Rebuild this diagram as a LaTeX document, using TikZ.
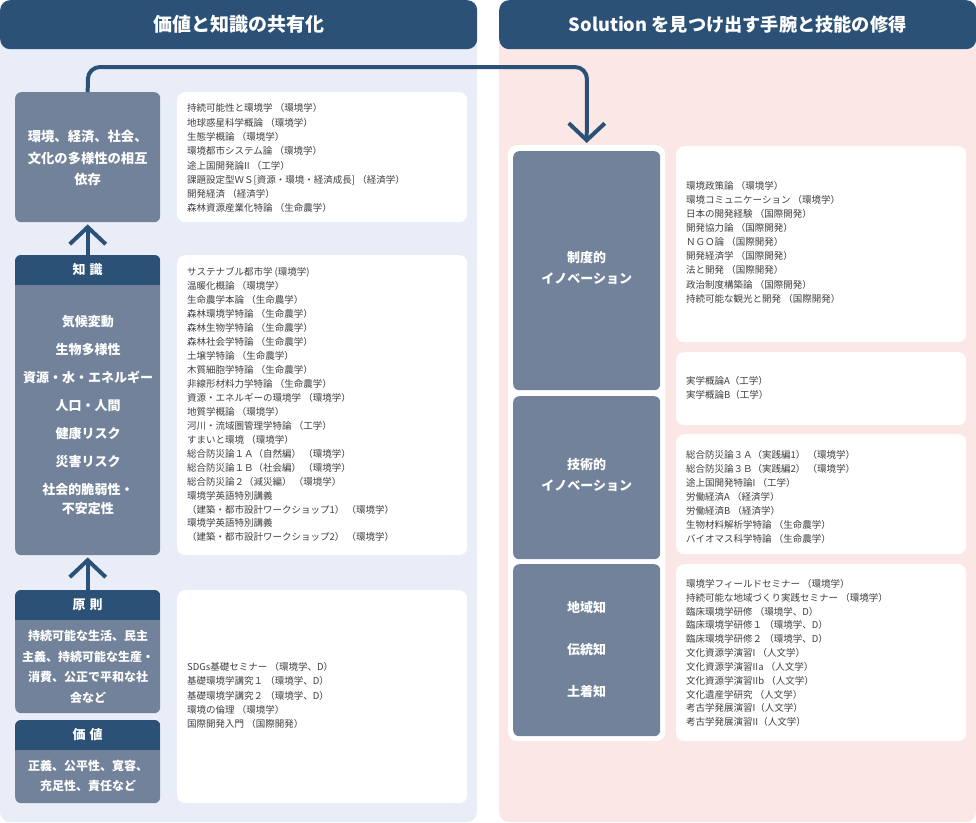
\documentclass[tikz,border=0pt]{standalone}
\usepackage{fontspec}
\setmainfont{Noto Sans CJK JP}
\usetikzlibrary{arrows.meta}
\definecolor{hdr}{HTML}{2B5177}
\definecolor{gboxc}{HTML}{72829A}
\definecolor{lbg}{HTML}{E8EDF7}
\definecolor{rbg}{HTML}{FBE8E6}
\definecolor{txt}{HTML}{404040}
\begin{document}
\begin{tikzpicture}[x=1pt,y=-1pt,
  conn/.style={draw=hdr, line width=4pt},
  chev/.style={-{Straight Barb[length=17pt,width=36pt]}},
  gray/.style={fill=gboxc, rounded corners=6pt, inner sep=0pt, anchor=north west},
  wbox/.style={fill=white, rounded corners=8pt, inner sep=0pt, anchor=north west},
  boxtxt/.style={text=white, align=center, inner sep=0pt, font=\bfseries\fontsize{13}{21}\selectfont},
  smalltxt/.style={text=white, align=center, inner sep=0pt, font=\bfseries\fontsize{12}{20.7}\selectfont},
  htxt/.style={text=white, inner sep=0pt, font=\bfseries\fontsize{13}{16}\selectfont},
  lst/.style={align=left, inner sep=0pt, anchor=north west, text=txt, font=\fontsize{9.5}{14.1}\selectfont},
  title/.style={text=white, inner sep=0pt, font=\bfseries\fontsize{18.5}{20}\selectfont}]
\useasboundingbox (0,0) rectangle (976,822);
% panels
\fill[lbg, rounded corners=10pt] (0,0) rectangle (477,822);
\fill[rbg, rounded corners=10pt] (499,0) rectangle (976,822);
\node[fill=hdr, rounded corners=10pt, minimum width=477pt, minimum height=49pt, anchor=north west, inner sep=0pt] (lh) at (0,0) {};
\node[fill=hdr, rounded corners=10pt, minimum width=477pt, minimum height=49pt, anchor=north west, inner sep=0pt] (rh) at (499,0) {};
\node[title, font=\bfseries\fontsize{19}{20}\selectfont] (lht) at (lh.center) {価値と知識の共有化};
\node[title, font=\bfseries\fontsize{18.2}{20}\selectfont] (rht) at (rh.center) {Solution を見つけ出す手腕と技能の修得};

% left gray boxes
\node[gray, minimum width=145pt, minimum height=130pt] (b1) at (15,92) {};
\node[boxtxt, font=\bfseries\fontsize{13.3}{21.5}\selectfont] (b1t) at ([yshift=-1pt]b1.center) {環境、経済、社会、\\文化の多様性の相互\\依存};

\node[gray, minimum width=145pt, minimum height=300pt] (know) at (15,255) {};
\begin{scope}
\clip[rounded corners=6pt] (know.north west) rectangle (know.south east);
\fill[hdr] (know.north west) rectangle ([yshift=-30pt]know.north east);
\end{scope}
\node[htxt] (knowh) at ([yshift=-15pt]know.north) {知\hspace{4pt}識};
\node[boxtxt, font=\bfseries\fontsize{13}{19.5}\selectfont] (knowt) at (88,415)
 {気候変動\\[8.5pt]生物多様性\\[8.5pt]資源・水・エネルギー\\[8.5pt]人口・人間\\[8.5pt]健康リスク\\[8.5pt]災害リスク\\[8.5pt]社会的脆弱性・\\不安定性};

\node[gray, minimum width=145pt, minimum height=123pt] (prin) at (15,590) {};
\begin{scope}
\clip[rounded corners=6pt] (prin.north west) rectangle (prin.south east);
\fill[hdr] (prin.north west) rectangle ([yshift=-30pt]prin.north east);
\end{scope}
\node[htxt] (prinh) at ([yshift=-15pt]prin.north) {原\hspace{4pt}則};
\node[smalltxt] (print) at (88,667) {持続可能な生活、民主\\主義、持続可能な生産・\\消費、公正で平和な社\\会など};

\node[gray, minimum width=145pt, minimum height=83pt] (val) at (15,720) {};
\begin{scope}
\clip[rounded corners=6pt] (val.north west) rectangle (val.south east);
\fill[hdr] (val.north west) rectangle ([yshift=-30pt]val.north east);
\end{scope}
\node[htxt] (valh) at ([yshift=-15pt]val.north) {価\hspace{4pt}値};
\node[smalltxt] (valt) at (88,776) {正義、公平性、寛容、\\充足性、責任など};

% left white lists
\node[wbox, minimum width=290pt, minimum height=130pt] (w1) at (177,92) {};
\node[lst, font=\fontsize{9.5}{14.3}\selectfont] (w1t) at (187,103.5) {持続可能性と環境学 （環境学）\\
地球惑星科学概論 （環境学）\\
生態学概論 （環境学）\\
環境都市システム論 （環境学）\\
途上国開発論II （工学）\\
課題設定型ＷＳ[資源・環境・経済成長] （経済学）\\
開発経済 （経済学）\\
森林資源産業化特論 （生命農学）};

\node[wbox, minimum width=290pt, minimum height=300pt] (w2) at (177,255) {};
\node[lst, font=\fontsize{9.5}{13.95}\selectfont] (w2t) at (187,267.5) {サステナブル都市学 (環境学)\\
温暖化概論 （環境学）\\
生命農学本論 （生命農学）\\
森林環境学特論 （生命農学）\\
森林生物学特論 （生命農学）\\
森林社会学特論 （生命農学）\\
土壌学特論 （生命農学）\\
木質細胞学特論 （生命農学）\\
非線形材料力学特論 （生命農学）\\
資源・エネルギーの環境学 （環境学）\\
地質学概論 （環境学）\\
河川・流域圏管理学特論 （工学）\\
すまいと環境 （環境学）\\
総合防災論１Ａ（自然編） （環境学）\\
総合防災論１Ｂ（社会編） （環境学）\\
総合防災論２（減災編） （環境学）\\
環境学英語特別講義\\
（建築・都市設計ワークショップ1） （環境学）\\
環境学英語特別講義\\
（建築・都市設計ワークショップ2） （環境学）};

\node[wbox, minimum width=290pt, minimum height=213pt] (w3) at (177,590) {};
\node[lst] (w3t) at (187,662.5) {SDGs基礎セミナー （環境学、D）\\
基礎環境学講究１ （環境学、D）\\
基礎環境学講究２ （環境学、D）\\
環境の倫理 （環境学）\\
国際開発入門 （国際開発）};

% right column
\node[wbox, rounded corners=9pt, minimum width=157pt, minimum height=596pt] (rw) at (508,145) {};
\node[gray, minimum width=147pt, minimum height=239pt] (r1) at (513,151) {};
\node[boxtxt] (r1t) at ([yshift=2.5pt]r1.center) {制度的\\イノベーション};
\node[gray, minimum width=147pt, minimum height=163pt] (r2) at (513,396) {};
\node[boxtxt] (r2t) at ([yshift=2.5pt]r2.center) {技術的\\イノベーション};
\node[gray, minimum width=147pt, minimum height=172pt] (r3) at (513,564) {};
\node[boxtxt] (r3t) at ([yshift=1pt]r3.center) {地域知\\[21pt]伝統知\\[21pt]土着知};

\node[wbox, minimum width=290pt, minimum height=196pt] (x1) at (676,146) {};
\node[lst] (x1t) at (686,181) {環境政策論 （環境学）\\
環境コミュニケーション （環境学）\\
日本の開発経験 （国際開発）\\
開発協力論 （国際開発）\\
ＮＧＯ論 （国際開発）\\
開発経済学 （国際開発）\\
法と開発 （国際開発）\\
政治制度構築論 （国際開発）\\
持続可能な観光と開発 （国際開発）};

\node[wbox, minimum width=290pt, minimum height=73pt] (x2) at (676,352) {};
\node[lst] (x2t) at (686,376) {実学概論A（工学）\\
実学概論B（工学）};

\node[wbox, minimum width=290pt, minimum height=120pt] (x3) at (676,434) {};
\node[lst] (x3t) at (686,450) {総合防災論３Ａ（実践編1） （環境学）\\
総合防災論３Ｂ（実践編2） （環境学）\\
途上国開発特論I （工学）\\
労働経済A （経済学）\\
労働経済B （経済学）\\
生物材料解析学特論 （生命農学）\\
バイオマス科学特論 （生命農学）};

\node[wbox, minimum width=290pt, minimum height=177pt] (x4) at (676,564) {};
\node[lst, font=\fontsize{9.5}{13.85}\selectfont] (x4t) at (686,579) {環境学フィールドセミナー （環境学）\\
持続可能な地域づくり実践セミナー （環境学）\\
臨床環境学研修 （環境学、D）\\
臨床環境学研修１ （環境学、D）\\
臨床環境学研修２ （環境学、D）\\
文化資源学演習I （人文学）\\
文化資源学演習IIa （人文学）\\
文化資源学演習IIb （人文学）\\
文化遺産学研究 （人文学）\\
考古学発展演習I（人文学）\\
考古学発展演習II（人文学）};

% connectors
\draw[conn, chev] (know.north) -- ([yshift=-2pt]b1.south);
\draw[conn, chev] (prin.north) -- ([yshift=-2pt]know.south);
\draw[conn, chev, rounded corners=12pt] (b1.north) -- (88,67) -- (587,67) -- ([yshift=2pt]rw.north -| r1.north);
\end{tikzpicture}
\end{document}
